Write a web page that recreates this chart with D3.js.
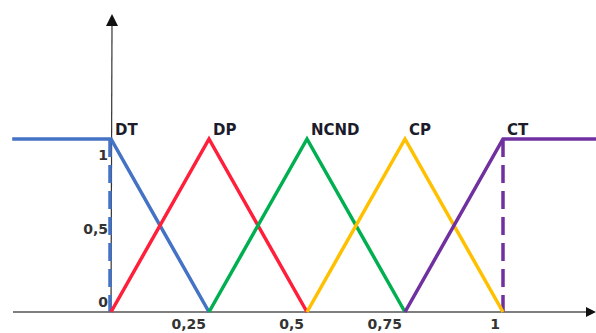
<!DOCTYPE html>
<html><head><meta charset="utf-8">
<script src="https://cdn.jsdelivr.net/npm/d3@7"></script>
<style>body{margin:0;background:#fff}svg{display:block}</style>
</head><body><svg id="c" width="596" height="333"></svg>
<script>
const categories = ["DT","DP","NCND","CP","CT"];
const peaks = [0, 0.25, 0.5, 0.75, 1];
const seriesDT = [[-0.252,1],[0,1],[0.25,0]];
const seriesDP = [[0,0],[0.25,1],[0.5,0]];
const seriesNCND = [[0.25,0],[0.5,1],[0.75,0]];
const seriesCP = [[0.5,0],[0.75,1],[1,0]];
const seriesCT = [[0.75,0],[1,1],[1.24,1]];
const colors = ["#4472C4","#FF1F3A","#00B050","#FFC000","#7030A0"];
const xTicks = [0.25, 0.5, 0.75, 1];
const xTickLabels = ["0,25","0,5","0,75","1"];
const yTicks = [0, 0.5, 1];
const yTickLabels = ["0","0,5","1"];

const svg = d3.select("#c");
const x = d3.scaleLinear().domain([0,1]).range([111,503]);
const y = d3.scaleLinear().domain([0,1]).range([312,139]);
const yLab = d3.scaleLinear().domain([0,1]).range([303,156]);

// x axis
svg.append("line").attr("x1",x(-0.25)).attr("x2",588).attr("y1",y(0)).attr("y2",y(0))
  .attr("stroke","#7f7f7f").attr("stroke-width",2);
svg.append("path").attr("d",`M596,${y(0)} L586,${y(0)-5} L586,${y(0)+5}Z`).attr("fill","#111");
// y axis
svg.append("line").attr("x1",x(0)).attr("x2",x(0)+1).attr("y1",y(0)).attr("y2",24)
  .attr("stroke","#333").attr("stroke-width",1.2);
svg.append("path").attr("d",`M${x(0)+1},14 L${x(0)-5},26 L${x(0)+7},26Z`).attr("fill","#111");

const series = [seriesDT, seriesDP, seriesNCND, seriesCP, seriesCT];
const line = d3.line().x(d=>x(d[0])).y(d=>y(d[1]));
// dashed verticals
svg.append("line").attr("x1",x(0)-1).attr("x2",x(0)-1).attr("y1",y(1)).attr("y2",y(0))
  .attr("stroke",colors[0]).attr("stroke-width",3.5).attr("stroke-dasharray","18,8");
svg.append("line").attr("x1",x(1)).attr("x2",x(1)).attr("y1",y(1)).attr("y2",y(0))
  .attr("stroke",colors[4]).attr("stroke-width",3.5).attr("stroke-dasharray","18,8");

series.forEach((s,i)=>{
  svg.append("path").attr("d",line(s)).attr("fill","none")
    .attr("stroke",colors[i]).attr("stroke-width",3.5).attr("stroke-linejoin","miter");
});

// category labels
categories.forEach((c,i)=>{
  svg.append("text").attr("x",x(peaks[i])+4).attr("y",y(1)-4)
    .attr("font-family","DejaVu Sans").attr("font-weight","bold").attr("font-size",15)
    .attr("fill","#1c1c2a").text(c);
});
// x tick labels
xTicks.forEach((v,i)=>{
  svg.append("text").attr("x",x(v)-3).attr("y",329).attr("text-anchor","end")
    .attr("font-family","DejaVu Sans").attr("font-weight","bold").attr("font-size",14)
    .attr("fill","#333").text(xTickLabels[i]);
});
// y tick labels
yTicks.forEach((v,i)=>{
  svg.append("text").attr("x",x(0)-3).attr("y",yLab(v)).attr("text-anchor","end")
    .attr("dominant-baseline","middle")
    .attr("font-family","DejaVu Sans").attr("font-weight","bold").attr("font-size",14)
    .attr("fill","#333").text(yTickLabels[i]);
});
</script></body></html>
